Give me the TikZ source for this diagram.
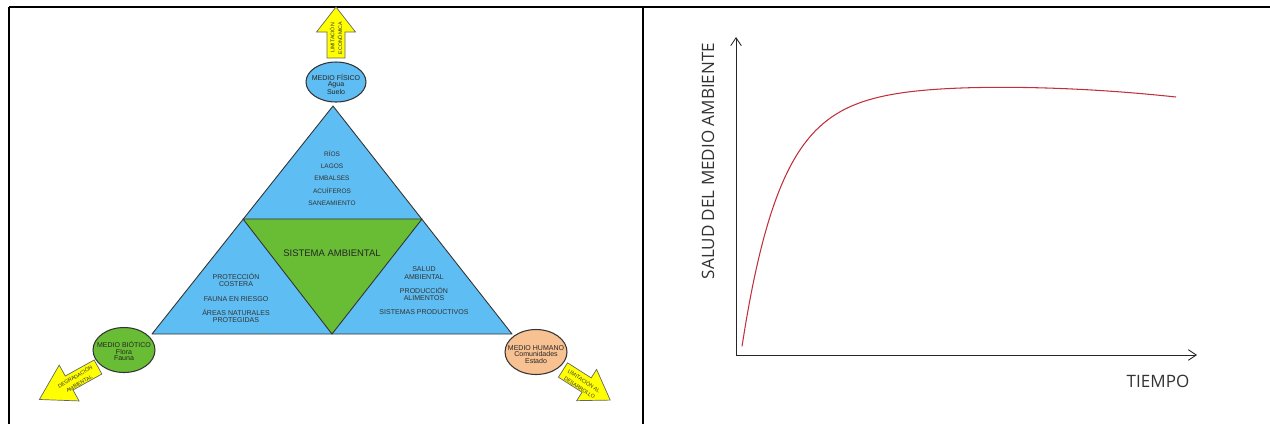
\documentclass[tikz,border=0pt]{standalone}
\usepackage{fontspec}
\setmainfont{Liberation Sans}
\newfontfamily\graffont{Open Sans}
\usepackage{tikz}
\usetikzlibrary{arrows.meta,shapes.geometric}
\definecolor{cAzul}{HTML}{5EBDF2}
\definecolor{cVerde}{HTML}{68BD35}
\definecolor{cNaranja}{HTML}{F8C191}
\definecolor{cAmarillo}{HTML}{FFFF00}
\definecolor{cBorde}{HTML}{333333}
\definecolor{cCurva}{HTML}{C0303C}
% flecha de bloque: x, y (cola), angulo, largo, largo punta, media punta, medio cuerpo
\newcommand{\flecha}[7]{%
  \draw[flechabox, shift={(#1,#2)}, rotate=#3]
    (0,-#7) -- ({#4-#5},-#7) -- ({#4-#5},-#6) -- (#4,0)
    -- ({#4-#5},#6) -- ({#4-#5},#7) -- (0,#7) -- cycle;}

\begin{document}
\begin{tikzpicture}[
    x=0.02cm, y=-0.02cm,
    frame/.style={line width=1.1pt, black},
    tri/.style={draw=cBorde, line width=0.5pt, line join=round},
    medio/.style={ellipse, draw=cBorde, line width=0.6pt, inner sep=0pt,
                  minimum width=12.4mm, minimum height=9mm},
    mtxt/.style={align=center, font=\fontsize{4}{3.6}\selectfont, text=black!85, inner sep=0pt},
    lista/.style={align=center, font=\fontsize{4}{4.2}\selectfont, text=black!80, inner sep=0pt},
    ftxt/.style={align=center, font=\fontsize{3}{4.4}\selectfont, text=black!80, inner sep=0pt},
    flechabox/.style={draw=black!60, fill=cAmarillo, line width=0.4pt},
    eje/.style={line width=0.5pt, black!85, -{Straight Barb[length=4.5pt,width=6pt]}},
    etq/.style={font=\graffont\fontsize{9.7}{11}\selectfont, text=black!80, inner sep=0pt}
]
\useasboundingbox (0,0) rectangle (1270,424);

% --- marco ---
\draw[frame] (9,7) -- (1270,7);
\draw[frame] (9,7) -- (9,424);
\draw[frame] (643,7) -- (643,424);

% --- triangulo ---
\coordinate (apex) at (333,106);
\coordinate (bl) at (152,334);
\coordinate (br) at (512,334);
\coordinate (ml) at (243,219);
\coordinate (mr) at (422,219);
\coordinate (mb) at (332,334);
\draw[tri, fill=cAzul] (apex) -- (br) -- (bl) -- cycle;
\draw[tri, fill=cVerde] (ml) -- (mr) -- (mb) -- cycle;

\node[lista, font=\fontsize{3.7}{7}\selectfont] (agua) at (332,178)
  {RÍOS\\LAGOS\\EMBALSES\\ACUÍFEROS\\SANEAMIENTO};
\node[font=\fontsize{5.4}{6}\selectfont, text=black!85] (sistema) at (332,253) {SISTEMA AMBIENTAL};
\node[lista] (costa) at (236,298)
  {PROTECCIÓN\\COSTERA\\[3.8pt] FAUNA EN RIESGO\\[3.8pt] ÁREAS NATURALES\\PROTEGIDAS};
\node[lista] (salud) at (424,291)
  {SALUD\\AMBIENTAL\\[3.8pt] PRODUCCIÓN\\ALIMENTOS\\[3.8pt] SISTEMAS PRODUCTIVOS};

% --- flechas amarillas ---
\flecha{336}{58}{90}{51}{25}{19.5}{9}
\flecha{98}{367}{209}{67}{34}{20.5}{8}
\flecha{563}{370}{-32.5}{56}{28}{18.5}{8.5}
\node[ftxt, rotate=90] (limEco) at (336,38) {LIMITACIÓN\\ECONÓMICA};
\node[ftxt, rotate=31] (degrad) at (77,380) {DEGRADACIÓN\\AMBIENTAL};
\node[ftxt, rotate=-34] (limDes) at (582,384) {LIMITACIÓN AL\\DESARROLLO};

% --- medios ---
\node[medio, fill=cAzul, minimum width=12mm, minimum height=8mm] (fisico) at (336,82) {};
\node[mtxt] (fisicoTxt) at (336,84.5) {MEDIO FÍSICO\\Agua\\Suelo};
\node[medio, fill=cVerde] (biotico) at (124,350) {};
\node[mtxt] (bioticoTxt) at (124,351) {MEDIO BIÓTICO\\Flora\\Fauna};
\node[medio, fill=cNaranja] (humano) at (536,352) {};
\node[mtxt] (humanoTxt) at (536,354.5) {MEDIO HUMANO\\Comunidades\\Estado};

% --- grafica ---
\coordinate (origen) at (736,355);
\coordinate (ytope) at (736,37);
\coordinate (xfin) at (1197,355);
\draw[eje] (origen) -- (ytope);
\draw[eje] (origen) -- (xfin);
\node[etq, rotate=90] (ylab) at (708,161) {SALUD DEL MEDIO AMBIENTE};
\node[etq] (xlab) at (1158,381) {TIEMPO};
\draw[cCurva, line width=0.6pt, smooth] plot[domain=742:1176, samples=120]
  (\x, {87 + 248*exp(-(\x-741)/38) + 2.89*((\x-990)/100)^2});

\end{tikzpicture}
\end{document}
